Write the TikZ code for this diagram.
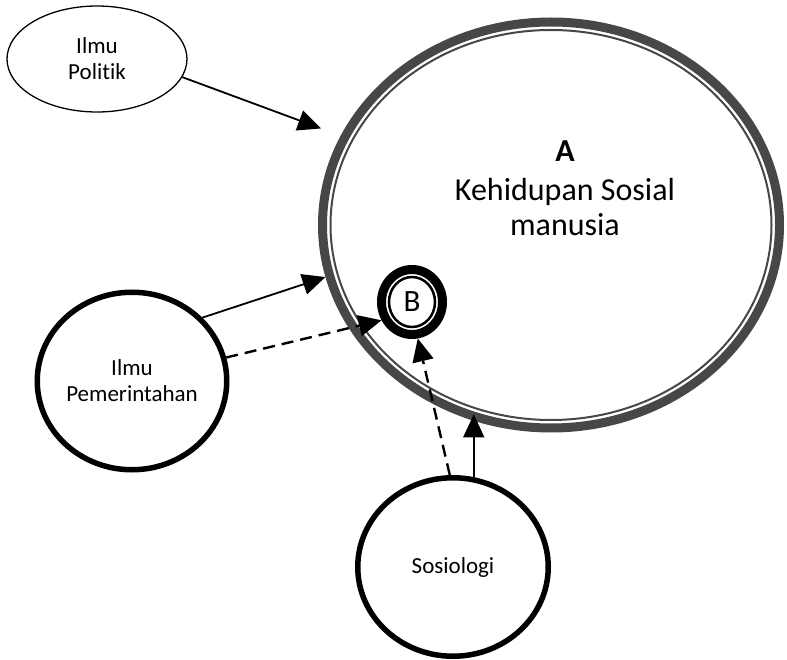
\documentclass[tikz,border=0pt]{standalone}
\usepackage{fontspec}
\setmainfont{Carlito}[Ligatures={NoCommon}]
\usetikzlibrary{shapes.geometric,arrows.meta}
\definecolor{ringgray}{HTML}{474747}
\begin{document}
\begin{tikzpicture}[x=1pt,y=-1pt,
  smalltxt/.style={font=\fontsize{23}{26}\selectfont, align=center},
  bigtxt/.style={font=\fontsize{32}{35}\selectfont, anchor=base},
  ringA/.style={ellipse, draw=ringgray, line width=9pt, minimum width=457pt, minimum height=406pt, inner sep=0pt},
  ringB/.style={ellipse, draw=black, line width=9pt, minimum width=61pt, minimum height=65pt, inner sep=0pt, font=\fontsize{31}{36}\selectfont},
  thinell/.style={ellipse, draw=black, line width=1.3pt, minimum width=180pt, minimum height=106pt, inner sep=0pt, smalltxt},
  thickell/.style={ellipse, draw=black, line width=5.5pt, inner sep=0pt, smalltxt},
  arr/.style={-{Triangle[length=23pt,width=21pt]}, line width=1.8pt},
  darr/.style={-{Triangle[length=23pt,width=21pt]}, line width=2.4pt, dash pattern=on 12pt off 7pt}
]
\useasboundingbox (0,0) rectangle (787,660);

\node[ringA] (A) at (551,225) {};
\draw[ringgray, line width=2pt] (A.center) ellipse [x radius=220.5pt, y radius=195pt];
\node[bigtxt] (Alab) at (565,162) {\textbf{A}};
\node[bigtxt] (Alab2) at (565,201) {Kehidupan Sosial};
\node[bigtxt] (Alab3) at (565,236) {manusia};

\node[ringB] (B) at (412,302) {B};
\draw[black, line width=2.5pt] (B.center) ellipse [x radius=23pt, y radius=25pt];

\node[thinell] (P) at (97,59) {Ilmu\\Politik};
\node[thickell, minimum width=189.5pt, minimum height=177.5pt] (G) at (132,381) {Ilmu\\Pemerintahan};
\node[thickell, minimum width=190.5pt, minimum height=178.5pt] (S) at (453,567) {Sosiologi};

\draw[arr, shorten >=21pt] (P.-12.8) -- (A.157);
\draw[arr] (G.42.5) -- (A.193.5);
\draw[darr] (G.14) -- (B.211.8);
\draw[darr] (S.92.4) -- (B.-81.5);
\draw[arr, shorten >=-8pt] (S.77) -- (S.77 |- A.250);
\end{tikzpicture}
\end{document}
